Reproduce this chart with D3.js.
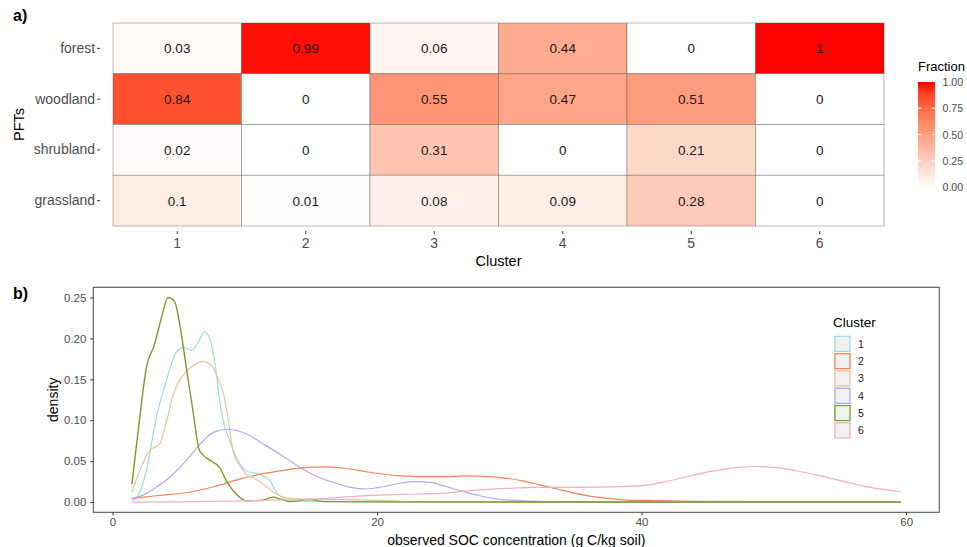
<!DOCTYPE html>
<html>
<head>
<meta charset="utf-8">
<script src="https://cdnjs.cloudflare.com/ajax/libs/d3/7.8.5/d3.min.js"></script>
<style>
    body { margin: 0; background: #fff; }
    svg { font-family: "Liberation Sans", Arial, Helvetica, sans-serif; display: block; }
    .AxisText { fill: #4d4d4d; }
</style>
</head>
<body>
<svg id="SvgContainer"></svg>
<script>
// ---- panel a data ----
var clusters = ["1", "2", "3", "4", "5", "6"];
var pfts = ["forest", "woodland", "shrubland", "grassland"];
var fractionForest    = [0.03, 0.99, 0.06, 0.44, 0,    1];
var fractionWoodland  = [0.84, 0,    0.55, 0.47, 0.51, 0];
var fractionShrubland = [0.02, 0,    0.31, 0,    0.21, 0];
var fractionGrassland = [0.1,  0.01, 0.08, 0.09, 0.28, 0];
var fractionTicks = [0, 0.25, 0.5, 0.75, 1];

// ---- panel b data (x = SOC g C/kg soil, y = density) ----
var densityCluster1 = [[1.5,0.002],[1.8,0.005],[2.55,0.038],[3.3,0.103],[4.06,0.148],[4.82,0.183],[5.4,0.189],[5.96,0.185],[6.46,0.195],[6.97,0.208],[7.35,0.2],[7.72,0.172],[8.1,0.124],[8.5,0.091],[8.86,0.075],[9.5,0.05],[10.1,0.038],[11.1,0.034],[11.9,0.026],[12.4,0.012],[13.2,0.003],[14.5,0.001],[20,0.0003],[59.6,0.0001]];
var densityCluster2 = [[1.45,0.0045],[3.5,0.008],[5.8,0.012],[7.7,0.019],[9.6,0.028],[11.5,0.035],[13.4,0.04],[14.8,0.0425],[16.2,0.043],[17.7,0.041],[19.2,0.037],[20.5,0.034],[21.8,0.032],[23.3,0.031],[25,0.031],[26.8,0.032],[28.5,0.031],[29.8,0.029],[31,0.026],[32.3,0.021],[33.6,0.016],[34.9,0.011],[36.2,0.007],[37.4,0.0045],[39,0.0025],[41,0.0018],[44,0.001],[50,0.0005],[59.6,0.0002]];
var densityCluster3 = [[1.45,0.012],[2.1,0.04],[2.8,0.063],[3.3,0.068],[3.6,0.072],[4.1,0.1],[4.6,0.132],[5.1,0.15],[5.6,0.16],[6.2,0.168],[6.85,0.172],[7.3,0.169],[7.6,0.164],[8.0,0.15],[8.4,0.132],[8.8,0.095],[9.1,0.063],[9.6,0.045],[10.1,0.034],[10.7,0.029],[11.4,0.022],[12.1,0.013],[12.9,0.006],[14,0.004],[16,0.003],[18,0.003],[20,0.002],[22,0.001],[25,0.0003],[59.6,0.0001]];
var densityCluster4 = [[1.5,0.004],[2.5,0.01],[3.3,0.018],[4.3,0.03],[5.3,0.046],[6.2,0.063],[7.1,0.079],[7.9,0.087],[8.7,0.089],[9.5,0.087],[10.4,0.081],[11.6,0.069],[12.8,0.057],[14.2,0.042],[15.5,0.031],[16.7,0.024],[18,0.018],[19.2,0.016],[20.5,0.019],[21.7,0.023],[22.8,0.025],[24,0.024],[25.2,0.019],[26.5,0.013],[27.7,0.008],[29,0.004],[30.5,0.002],[33,0.0005],[36,0.0001],[59.6,0]];
var densityCluster5 = [[1.46,0.022],[2.05,0.103],[2.55,0.164],[3.18,0.193],[3.69,0.225],[4.19,0.25],[4.69,0.245],[5.08,0.217],[5.58,0.164],[6.08,0.111],[6.57,0.063],[7.1,0.054],[8.1,0.042],[8.6,0.026],[9.36,0.0097],[10.1,0.0016],[11.2,0.002],[12.1,0.006],[12.8,0.003],[13.4,0.0005],[14.9,0.003],[16,0.0005],[20,0.0002],[59.6,0.0001]];
var densityCluster6 = [[1.45,0],[5,0.0003],[8,0.001],[10,0.0015],[12,0.0025],[14.2,0.003],[16.5,0.005],[19.2,0.008],[22,0.0095],[24.8,0.0106],[27,0.014],[29.8,0.0167],[32,0.018],[34.9,0.018],[38.7,0.019],[40.5,0.021],[41.8,0.025],[43.2,0.03],[44.5,0.035],[45.8,0.039],[47.3,0.0425],[48.8,0.0435],[50.3,0.042],[51.8,0.038],[53.5,0.032],[55.6,0.024],[57.6,0.017],[59.6,0.0126]];
var clusterColors = ["#9fdce2", "#f2845a", "#e8c49c", "#b0aaf0", "#7d9a2c", "#ecb2ba"];
var xTicks = [0, 20, 40, 60];
var yTicks = [0, 0.05, 0.1, 0.15, 0.2, 0.25];

function RunChart() {
    var width = 967;
    var height = 547;

    var svg = d3.select("#SvgContainer")
        .attr("width", width)
        .attr("height", height);

    svg.append("rect").attr("width", width).attr("height", height).attr("fill", "#fff");

    // ================= panel a: heatmap =================
    var tileLeft = 113, tileRight = 884, tileTop = 23, tileBottom = 226;
    var colW = (tileRight - tileLeft) / clusters.length;
    var rowH = (tileBottom - tileTop) / pfts.length;

    var xBand = d3.scaleBand().domain(clusters).range([tileLeft, tileRight]);
    var yBand = d3.scaleBand().domain(pfts).range([tileTop, tileBottom]);
    var fillScale = d3.scaleLinear().domain([0, 1]).range(["#ffffff", "#ff0000"]).interpolate(d3.interpolateLab);

    var rows = [fractionForest, fractionWoodland, fractionShrubland, fractionGrassland];
    var cells = [];
    for (var r = 0; r < pfts.length; r++) {
        for (var c = 0; c < clusters.length; c++) {
            cells.push({pft: pfts[r], cluster: clusters[c], value: rows[r][c]});
        }
    }

    var cellGroups = svg.selectAll(".Cell")
        .data(cells)
        .enter()
        .append("g")
        .attr("class", "Cell");

    cellGroups.append("rect")
        .attr("x", function (d) { return xBand(d.cluster); })
        .attr("y", function (d) { return yBand(d.pft); })
        .attr("width", xBand.bandwidth())
        .attr("height", yBand.bandwidth())
        .attr("fill", function (d) { return fillScale(d.value); })
        .attr("stroke", "rgba(70,70,70,0.45)")
        .attr("stroke-width", 0.8);

    cellGroups.append("text")
        .text(function (d) { return d.value; })
        .attr("x", function (d) { return xBand(d.cluster) + xBand.bandwidth() / 2; })
        .attr("y", function (d) { return yBand(d.pft) + yBand.bandwidth() / 2 + 5; })
        .attr("text-anchor", "middle")
        .attr("font-size", "13.5px")
        .attr("fill", "#1a1a1a");

    // discrete axes sit 0.1 band outside the tiles (ggplot expansion)
    var axisA_x = svg.append("g")
        .attr("transform", "translate(0," + (tileBottom + rowH * 0.1) + ")")
        .call(d3.axisBottom(xBand).tickSize(3).tickPadding(4));
    var axisA_y = svg.append("g")
        .attr("transform", "translate(" + (tileLeft - colW * 0.1) + ",0)")
        .call(d3.axisLeft(yBand).tickSize(3).tickPadding(2));

    [axisA_x, axisA_y].forEach(function (a) {
        a.select(".domain").remove();
        a.selectAll("line").attr("stroke", "#333");
        a.selectAll("text").attr("class", "AxisText").attr("font-size", "14px").attr("font-family", null);
    });

    svg.append("text").text("Cluster")
        .attr("x", (tileLeft + tileRight) / 2).attr("y", 266)
        .attr("text-anchor", "middle").attr("font-size", "14.5px");

    svg.append("text").text("PFTs")
        .attr("transform", "translate(24," + ((tileTop + tileBottom) / 2) + ") rotate(-90)")
        .attr("text-anchor", "middle").attr("font-size", "14.5px");

    svg.append("text").text("a)")
        .attr("x", 13).attr("y", 21)
        .attr("font-weight", "bold").attr("font-size", "16px");

    // colour bar legend
    var barX = 918, barW = 17, barTop = 82, barBottom = 187;
    var defs = svg.append("defs");
    var grad = defs.append("linearGradient")
        .attr("id", "FractionGrad")
        .attr("x1", "0").attr("y1", "1").attr("x2", "0").attr("y2", "0");
    d3.range(0, 1.0001, 0.1).forEach(function (t) {
        grad.append("stop").attr("offset", t).attr("stop-color", fillScale(t));
    });

    svg.append("text").text("Fraction")
        .attr("x", barX).attr("y", 71)
        .attr("font-size", "13px");

    svg.append("rect")
        .attr("x", barX).attr("y", barTop)
        .attr("width", barW).attr("height", barBottom - barTop)
        .attr("fill", "url(#FractionGrad)");

    var barScale = d3.scaleLinear().domain([0, 1]).range([barBottom, barTop]);
    svg.selectAll(".BarTick")
        .data(fractionTicks.slice(1, 4))
        .enter()
        .append("g")
        .each(function (d) {
            var g = d3.select(this);
            g.append("line").attr("x1", barX).attr("x2", barX + 3.4)
                .attr("y1", barScale(d)).attr("y2", barScale(d)).attr("stroke", "#fff");
            g.append("line").attr("x1", barX + barW - 3.4).attr("x2", barX + barW)
                .attr("y1", barScale(d)).attr("y2", barScale(d)).attr("stroke", "#fff");
        });

    svg.selectAll(".BarLabel")
        .data(fractionTicks)
        .enter()
        .append("text")
        .attr("class", "AxisText")
        .text(function (d) { return d3.format(".2f")(d); })
        .attr("x", barX + barW + 7.5)
        .attr("y", function (d) { return barScale(d) + 4; })
        .attr("font-size", "10.6px");

    // ================= panel b: densities =================
    var boxL = 93.3, boxR = 939.3, boxT = 287.3, boxB = 512.3;
    var series = [densityCluster1, densityCluster2, densityCluster3, densityCluster4, densityCluster5, densityCluster6];

    var allX = [], allY = [];
    series.forEach(function (s) {
        s.forEach(function (p) { allX.push(p[0]); allY.push(p[1]); });
    });
    var xMin = d3.min(allX), xMax = d3.max(allX);
    var yMax = d3.max(allY);
    var xPad = (xMax - xMin) * 0.05, yPad = yMax * 0.05;

    var xScale = d3.scaleLinear().domain([xMin - xPad, xMax + xPad]).range([boxL, boxR]);
    var yScale = d3.scaleLinear().domain([-yPad, yMax + yPad]).range([boxB, boxT]);

    var line = d3.line()
        .x(function (d) { return xScale(d[0]); })
        .y(function (d) { return yScale(d[1]); })
        .curve(d3.curveMonotoneX);

    svg.selectAll(".DensityLine")
        .data(series)
        .enter()
        .append("path")
        .attr("class", "DensityLine")
        .attr("d", line)
        .attr("fill", "none")
        .attr("stroke", function (d, i) { return clusterColors[i]; })
        .attr("stroke-width", function (d, i) { return i === 4 ? 1.4 : 1.2; });

    svg.append("rect")
        .attr("x", boxL).attr("y", boxT)
        .attr("width", boxR - boxL).attr("height", boxB - boxT)
        .attr("fill", "none").attr("stroke", "#555").attr("stroke-width", 1.1);

    var axisB_x = svg.append("g")
        .attr("transform", "translate(0," + boxB + ")")
        .call(d3.axisBottom(xScale).tickValues(xTicks).tickSize(3).tickPadding(3));
    var axisB_y = svg.append("g")
        .attr("transform", "translate(" + boxL + ",0)")
        .call(d3.axisLeft(yScale).tickValues(yTicks).tickFormat(d3.format(".2f")).tickSize(3).tickPadding(4));

    [axisB_x, axisB_y].forEach(function (a) {
        a.select(".domain").remove();
        a.selectAll("line").attr("stroke", "#333");
        a.selectAll("text").attr("class", "AxisText").attr("font-size", "11.5px").attr("font-family", null);
    });

    svg.append("text").text("observed SOC concentration (g C/kg soil)")
        .attr("x", (boxL + boxR) / 2).attr("y", 545)
        .attr("text-anchor", "middle").attr("font-size", "14px");

    svg.append("text").text("density")
        .attr("transform", "translate(58," + ((boxT + boxB) / 2) + ") rotate(-90)")
        .attr("text-anchor", "middle").attr("font-size", "14px");

    svg.append("text").text("b)")
        .attr("x", 13).attr("y", 299)
        .attr("font-weight", "bold").attr("font-size", "16px");

    // cluster legend
    var keyX = 834.3, keyTop = 335.7, keySize = 16.3, keyStep = 17.3;
    svg.append("text").text("Cluster")
        .attr("x", 833).attr("y", 327)
        .attr("font-size", "13.5px");

    var keys = svg.selectAll(".LegendKey")
        .data(clusters)
        .enter()
        .append("g")
        .attr("class", "LegendKey");

    keys.append("rect")
        .attr("x", keyX + 0.6)
        .attr("y", function (d, i) { return keyTop + i * keyStep + 0.6; })
        .attr("width", keySize - 1.2)
        .attr("height", keySize - 1.2)
        .attr("fill", "#f0f0f0")
        .attr("stroke", function (d, i) { return clusterColors[i]; })
        .attr("stroke-width", 1.3);

    keys.append("text")
        .text(function (d) { return d; })
        .attr("x", keyX + keySize + 7.5)
        .attr("y", function (d, i) { return keyTop + i * keyStep + keySize / 2 + 4; })
        .attr("font-size", "10.5px")
        .attr("fill", "#1a1a1a");
}

RunChart();
</script>
</body>
</html>
